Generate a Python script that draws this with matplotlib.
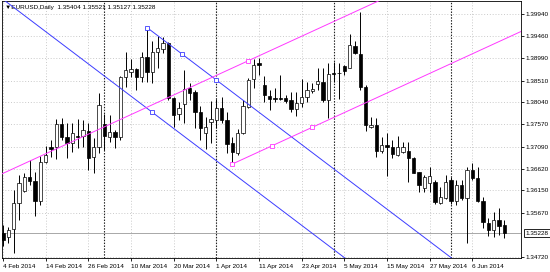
import numpy as np
import pandas as pd
import matplotlib
matplotlib.use("Agg")
import matplotlib.pyplot as plt

# EURUSD daily bars, 4 Feb 2014 .. 16 Jun 2014 (weekdays only)
dates = pd.bdate_range("2014-02-04", periods=95)

opens = [1.35236, 1.35157, 1.35316, 1.35874, 1.36145, 1.36433, 1.36360, 1.35917, 1.36768, 1.37073,
         1.37090, 1.37571, 1.37305, 1.37163, 1.37320, 1.37320, 1.37427, 1.36862, 1.37077, 1.37571,
         1.37305, 1.37406, 1.37305, 1.38581, 1.38688, 1.38759, 1.38581, 1.39010, 1.38701, 1.39130,
         1.39182, 1.39324, 1.38130, 1.37792, 1.38007, 1.38344, 1.38271, 1.37842, 1.37391, 1.37627,
         1.37663, 1.37915, 1.37663, 1.37176, 1.36961, 1.37391, 1.37949, 1.38538, 1.38881, 1.38415,
         1.38179, 1.38136, 1.38130, 1.38130, 1.38093, 1.37893, 1.38022, 1.38151, 1.38293, 1.38437,
         1.38486, 1.38093, 1.38667, 1.38679, 1.38830, 1.38774, 1.39253, 1.39081, 1.38379, 1.37507,
         1.37556, 1.37004, 1.37126, 1.37077, 1.36912, 1.36983, 1.37004, 1.36841, 1.36553, 1.36196,
         1.36304, 1.36338, 1.35874, 1.35982, 1.36375, 1.35930, 1.36267, 1.35982, 1.36589, 1.36424,
         1.35924, 1.35457, 1.35301, 1.35515, 1.35404]
highs = [1.35408, 1.35372, 1.36160, 1.36482, 1.36518, 1.36804, 1.36553, 1.36890, 1.37105, 1.37234,
         1.37678, 1.37706, 1.37593, 1.37593, 1.37678, 1.37663, 1.37593, 1.37270, 1.38237, 1.37792,
         1.37771, 1.37449, 1.38609, 1.39130, 1.38967, 1.38774, 1.39118, 1.39650, 1.39367, 1.39468,
         1.39440, 1.39345, 1.38151, 1.38057, 1.38737, 1.38465, 1.38308, 1.37964, 1.37734, 1.38078,
         1.38108, 1.38164, 1.37842, 1.37305, 1.37464, 1.38093, 1.38559, 1.38967, 1.38989, 1.38609,
         1.38308, 1.38344, 1.38630, 1.38200, 1.38271, 1.38271, 1.38538, 1.38486, 1.38452, 1.38774,
         1.38774, 1.38881, 1.38916, 1.38894, 1.38845, 1.39511, 1.39367, 1.39983, 1.38415, 1.37721,
         1.37700, 1.37292, 1.37378, 1.37234, 1.37320, 1.37197, 1.37197, 1.36862, 1.36553, 1.36482,
         1.36660, 1.36375, 1.36231, 1.36482, 1.36446, 1.36375, 1.36375, 1.36660, 1.36746, 1.36660,
         1.36016, 1.35552, 1.35694, 1.35767, 1.35521]
lows = [1.34957, 1.35021, 1.34813, 1.35515, 1.36117, 1.36267, 1.35601, 1.35838, 1.36733, 1.36875,
        1.36819, 1.37234, 1.36841, 1.36983, 1.37056, 1.37077, 1.36589, 1.36525, 1.36948, 1.37019,
        1.37197, 1.37056, 1.37234, 1.38366, 1.38593, 1.38308, 1.38486, 1.38486, 1.38452, 1.38774,
        1.39096, 1.38093, 1.37507, 1.37663, 1.37593, 1.38093, 1.37485, 1.37234, 1.37034, 1.37163,
        1.37485, 1.37593, 1.36948, 1.36718, 1.36912, 1.37363, 1.37915, 1.38344, 1.38630, 1.38057,
        1.37878, 1.38057, 1.38093, 1.38022, 1.37842, 1.37749, 1.37949, 1.38057, 1.38237, 1.38308,
        1.38057, 1.37700, 1.38486, 1.38108, 1.38630, 1.38774, 1.39081, 1.38308, 1.37434, 1.37485,
        1.36862, 1.36948, 1.36461, 1.36841, 1.36890, 1.36961, 1.36338, 1.36518, 1.36123, 1.36123,
        1.36123, 1.35859, 1.35859, 1.35960, 1.35859, 1.35838, 1.35945, 1.35015, 1.36375, 1.35909,
        1.35337, 1.35172, 1.35144, 1.35193, 1.35127]
closes = [1.35086, 1.35301, 1.35874, 1.36317, 1.36433, 1.36360, 1.35917, 1.36768, 1.36912, 1.37051,
          1.37571, 1.37292, 1.37163, 1.37378, 1.37305, 1.37442, 1.36854, 1.37077, 1.37986, 1.37326,
          1.37412, 1.37305, 1.38581, 1.38737, 1.38759, 1.38581, 1.39010, 1.38701, 1.39118, 1.39204,
          1.39324, 1.38130, 1.37771, 1.37915, 1.38323, 1.38250, 1.37842, 1.37485, 1.37507, 1.37678,
          1.37915, 1.37663, 1.37148, 1.36983, 1.37391, 1.37964, 1.38523, 1.38845, 1.38845, 1.38200,
          1.38121, 1.38125, 1.38108, 1.38078, 1.37893, 1.38022, 1.38151, 1.38308, 1.38323, 1.38501,
          1.38093, 1.38645, 1.38658, 1.38667, 1.38722, 1.39274, 1.39096, 1.38366, 1.37556, 1.37556,
          1.37004, 1.37126, 1.37090, 1.36933, 1.37077, 1.37077, 1.36841, 1.36531, 1.36267, 1.36433,
          1.36461, 1.35909, 1.36016, 1.36338, 1.35930, 1.36267, 1.35982, 1.36589, 1.36411, 1.35924,
          1.35466, 1.35301, 1.35515, 1.35387, 1.35228]

price_ticks = [1.34720, 1.35670, 1.36150, 1.36620, 1.37090, 1.37570,
               1.38040, 1.38510, 1.38990, 1.39460, 1.39940]

# equidistant channels: two points on the main line, one on the parallel line
blue_dates = ["2014-03-13", "2014-04-01", "2014-03-14"]
blue_prices = [1.39650, 1.38523, 1.37829]
pink_dates = ["2014-04-04", "2014-04-25", "2014-04-09"]
pink_prices = [1.36718, 1.37507, 1.38937]

FONT = ["Liberation Sans", "DejaVu Sans"]
plt.rcParams["font.family"] = FONT
plt.rcParams["font.size"] = 4.6

fig = plt.figure(figsize=(5.5, 2.72), dpi=100)
ax = fig.add_axes([1.5 / 550, 14.5 / 272, 519.5 / 550, 256.5 / 272])

x = np.arange(len(dates))
o = np.array(opens); h = np.array(highs); l = np.array(lows); c = np.array(closes)
up = c >= o

# grid
for t in price_ticks:
    ax.axhline(t, color="#c4c4c4", lw=0.6, ls=(0, (1.2, 2.2)), zorder=0)
for t in x[::8]:
    ax.axvline(t, color="#c4c4c4", lw=0.6, ls=(0, (1.2, 2.2)), zorder=0)

# month separators
months = dates.to_period("M")
for i in range(1, len(dates)):
    if months[i] != months[i - 1]:
        ax.axvline(x[i], color="#202020", lw=0.8, ls=(0, (1.3, 1.3)), zorder=1)

# current price line
ax.axhline(closes[-1], color="#a8a8a8", lw=0.7, zorder=1)

# candles
ax.vlines(x, l, h, color="black", lw=0.7, zorder=2)
body_lo = np.minimum(o, c)
body_h = np.maximum(np.abs(c - o), 0.00004)
ax.bar(x[up], body_h[up], bottom=body_lo[up], width=0.6, color="white",
       edgecolor="black", linewidth=0.5, zorder=3)
ax.bar(x[~up], body_h[~up], bottom=body_lo[~up], width=0.6, color="black",
       edgecolor="black", linewidth=0.5, zorder=3)


def channel(dts, prices, color):
    idx = [dates.get_loc(pd.Timestamp(d)) for d in dts]
    slope = (prices[1] - prices[0]) / (idx[1] - idx[0])
    # main line as a ray from the first point
    xs = np.array([idx[0], 130])
    ax.plot(xs, prices[0] + slope * (xs - idx[0]), color=color, lw=0.7, zorder=4)
    # parallel line through the third point
    xs2 = np.array([-20, 130])
    ax.plot(xs2, prices[2] + slope * (xs2 - idx[2]), color=color, lw=0.7, zorder=4)
    mid = (idx[0] + idx[1]) / 2
    mx = [idx[0], mid, idx[1], idx[2]]
    my = [prices[0], (prices[0] + prices[1]) / 2, prices[1], prices[2]]
    ax.plot(mx, my, ls="none", marker="s", ms=2.4, mfc="white", mec=color,
            mew=0.6, zorder=5)


channel(blue_dates, blue_prices, "#3c3cff")
channel(pink_dates, pink_prices, "#ff38ff")

ax.set_xlim(-0.28, 97.13)
ax.set_ylim(1.34710, 1.40220)

for s in ax.spines.values():
    s.set_color("black")
    s.set_linewidth(0.6)

ax.yaxis.tick_right()
ax.set_yticks(price_ticks)
ax.set_yticklabels([f"{t:.5f}" for t in price_ticks])
ax.set_xticks(x[::8])
ax.set_xticklabels([f"{d.day} {d.strftime('%b %Y')}" for d in dates[::8]], ha="left")
ax.tick_params(axis="both", length=2, width=0.6, color="black", labelsize=4.6, pad=1.5)
ax.tick_params(axis="x", pad=2.5)

# last price box on the scale
ax.text(1.009, closes[-1], f"{closes[-1]:.5f}", transform=ax.get_yaxis_transform(),
        va="center", ha="left", fontsize=4.6,
        bbox=dict(boxstyle="square,pad=0.25", fc="white", ec="black", lw=0.6))

# header
ax.text(0.006, 0.985, "\u25bcEURUSD,Daily  " + " ".join(f"{v:.5f}" for v in
        (opens[-1], highs[-1], lows[-1], closes[-1])),
        transform=ax.transAxes, va="top", ha="left", fontsize=4.6, family=FONT)

fig.savefig("out.png", dpi=100, facecolor="white")
